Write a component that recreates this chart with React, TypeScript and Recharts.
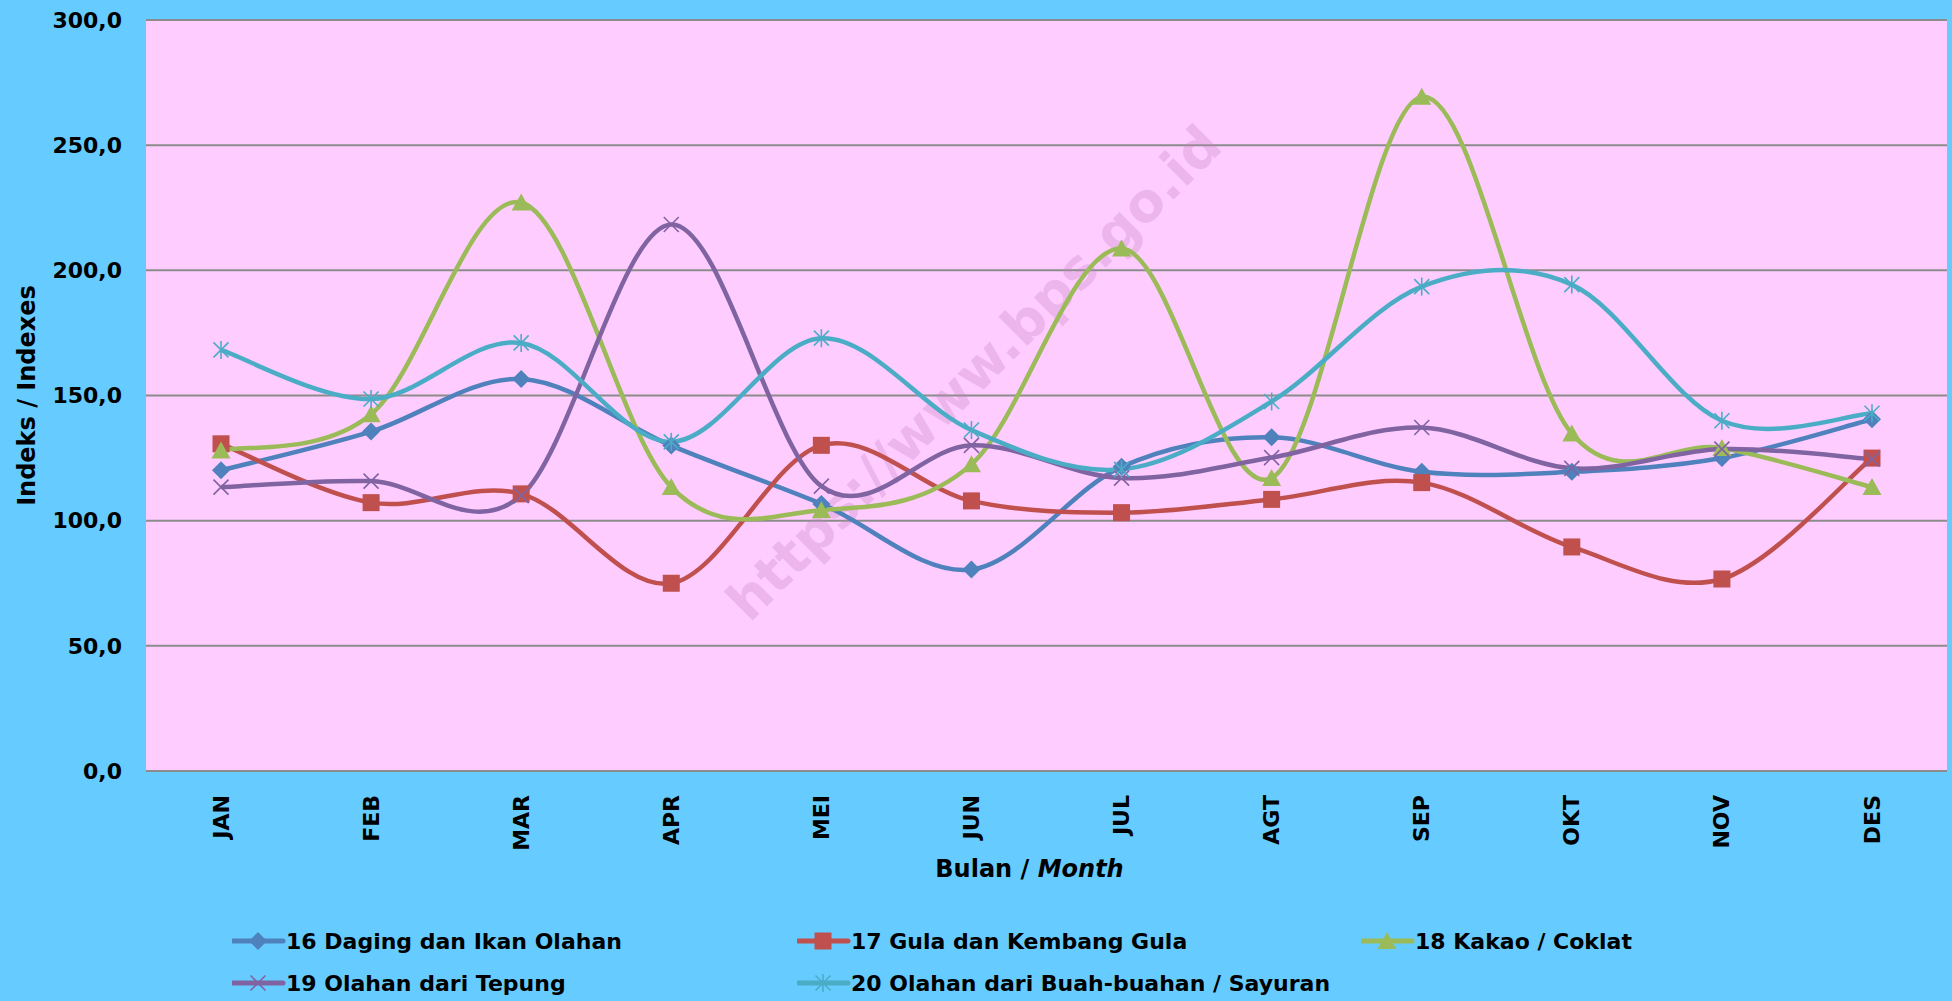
import { LineChart, Line, XAxis, YAxis, CartesianGrid, Legend } from 'recharts';

const months = ['JAN', 'FEB', 'MAR', 'APR', 'MEI', 'JUN', 'JUL', 'AGT', 'SEP', 'OKT', 'NOV', 'DES'];
const daging = [120.1, 135.6, 156.6, 130.0, 106.7, 80.5, 121.5, 133.3, 119.5, 119.5, 125.0, 140.5];
const gula = [130.7, 107.2, 110.7, 75.0, 130.1, 107.9, 103.2, 108.5, 115.2, 89.5, 76.7, 125.0];
const kakao = [128.0, 142.5, 227.1, 113.4, 104.2, 122.5, 208.7, 117.0, 269.3, 134.8, 129.0, 113.4];
const tepung = [113.4, 115.8, 110.0, 218.3, 113.8, 130.1, 117.0, 125.2, 137.2, 120.9, 128.6, 124.6];
const buah = [168.2, 148.6, 171.0, 131.5, 172.9, 136.2, 120.5, 147.6, 193.5, 194.3, 139.9, 142.9];
const yTicks = [0, 50, 100, 150, 200, 250, 300];

const series = [
    { key: 'daging', name: '16 Daging dan Ikan Olahan', color: '#4F81BD', shape: 'diamond' },
    { key: 'gula', name: '17 Gula dan Kembang Gula', color: '#C0504D', shape: 'square' },
    { key: 'kakao', name: '18 Kakao / Coklat', color: '#9BBB59', shape: 'triangle' },
    { key: 'tepung', name: '19 Olahan dari Tepung', color: '#8064A2', shape: 'x' },
    { key: 'buah', name: '20 Olahan dari Buah-buahan / Sayuran', color: '#4BACC6', shape: 'star' },
];

const data = months.map((m, i) => ({
    month: m,
    daging: daging[i],
    gula: gula[i],
    kakao: kakao[i],
    tepung: tepung[i],
    buah: buah[i],
}));

const FONT = '"DejaVu Sans", Verdana, sans-serif';

// Excel style smoothing (cardinal spline, tension 0)
const excelCurve = (context: any) => {
    let pts: number[][] = [];
    return {
        areaStart() {},
        areaEnd() {},
        lineStart() { pts = []; },
        point(x: number, y: number) { pts.push([+x, +y]); },
        lineEnd() {
            const n = pts.length;
            if (!n) return;
            context.moveTo(pts[0][0], pts[0][1]);
            for (let i = 0; i < n - 1; i++) {
                const p0 = pts[Math.max(i - 1, 0)];
                const p1 = pts[i];
                const p2 = pts[i + 1];
                const p3 = pts[Math.min(i + 2, n - 1)];
                context.bezierCurveTo(
                    p1[0] + (p2[0] - p0[0]) / 6, p1[1] + (p2[1] - p0[1]) / 6,
                    p2[0] - (p3[0] - p1[0]) / 6, p2[1] - (p3[1] - p1[1]) / 6,
                    p2[0], p2[1]
                );
            }
        },
    };
};

const Marker = ({ cx, cy, shape, color }: any) => {
    if (shape === 'diamond') {
        return <polygon points={`${cx},${cy - 9} ${cx + 9},${cy} ${cx},${cy + 9} ${cx - 9},${cy}`} fill={color} />;
    }
    if (shape === 'square') {
        return <rect x={cx - 8.5} y={cy - 8.5} width={17} height={17} fill={color} />;
    }
    if (shape === 'triangle') {
        return <polygon points={`${cx},${cy - 9} ${cx + 9.5},${cy + 8} ${cx - 9.5},${cy + 8}`} fill={color} />;
    }
    const d = 7.5;
    return (
        <g stroke={color} strokeWidth={1.6}>
            <line x1={cx - d} y1={cy - d} x2={cx + d} y2={cy + d} />
            <line x1={cx - d} y1={cy + d} x2={cx + d} y2={cy - d} />
            {shape === 'star' && <line x1={cx} y1={cy - 9} x2={cx} y2={cy + 9} />}
        </g>
    );
};

const makeDot = (shape: string, color: string) => (props: any) => (
    <Marker key={`${shape}-${props.index}`} cx={props.cx} cy={props.cy} shape={shape} color={color} />
);

const XTick = ({ x, y, payload }: any) => (
    <text
        x={x}
        y={y}
        transform={`rotate(-90, ${x}, ${y})`}
        textAnchor="end"
        dominantBaseline="central"
        fontFamily={FONT}
        fontWeight="bold"
        fontSize={22}
        fill="#000"
    >
        {payload.value}
    </text>
);

const YTitle = (props: any) => {
    const vb = props.viewBox || { x: 0, y: 20, width: 146, height: 751 };
    const cx = vb.x + 27;
    const cy = vb.y + vb.height / 2;
    return (
        <text x={cx} y={cy} transform={`rotate(-90, ${cx}, ${cy})`} textAnchor="middle" dominantBaseline="central"
            fontFamily={FONT} fontWeight="bold" fontSize={24} fill="#000">
            Indeks / Indexes
        </text>
    );
};

const XTitle = (props: any) => {
    const vb = props.viewBox || { x: 146, y: 771, width: 1801, height: 230 };
    return (
        <text x={vb.x + vb.width / 2 - 17} y={vb.y + 106} textAnchor="middle"
            fontFamily={FONT} fontWeight="bold" fontSize={24} fill="#000">
            Bulan / <tspan fontStyle="italic">Month</tspan>
        </text>
    );
};

const legendCols = [232, 797, 1361];

const LegendBox = () => (
    <div style={{ position: 'relative', width: 1952, height: 84, fontFamily: FONT }}>
        {series.map((s, i) => (
            <div
                key={s.key}
                style={{
                    position: 'absolute',
                    left: legendCols[i % 3],
                    top: Math.floor(i / 3) * 42,
                    height: 42,
                    display: 'flex',
                    alignItems: 'center',
                    whiteSpace: 'nowrap',
                }}
            >
                <svg width={54} height={42}>
                    <line x1={1} y1={21} x2={51} y2={21} stroke={s.color} strokeWidth={5} strokeLinecap="round" />
                    <Marker cx={26} cy={21} shape={s.shape} color={s.color} />
                </svg>
                <span style={{ fontSize: 22, fontWeight: 'bold', color: '#000' }}>{s.name}</span>
            </div>
        ))}
    </div>
);

const App = () => {
    return (
        <div style={{ width: 1952, height: 1001, background: '#66CCFF', fontFamily: FONT }}>
            <style>{'body{margin:0}'}</style>
            <LineChart width={1952} height={1001} data={data} margin={{ top: 20, right: 5, left: 0, bottom: 0 }}>
                <CartesianGrid vertical={false} stroke="#8C8C8C" strokeWidth={2} fill="#FFCCFF" fillOpacity={1} />
                <text
                    x={974}
                    y={373}
                    transform="rotate(-45, 974, 373)"
                    textAnchor="middle"
                    dominantBaseline="central"
                    fontFamily={FONT}
                    fontWeight="bold"
                    fontSize={54}
                    fill="#C080C0"
                    fillOpacity={0.3}
                >
                    https://www.bps.go.id
                </text>
                <XAxis
                    dataKey="month"
                    height={230}
                    padding={{ left: 75, right: 75 }}
                    axisLine={{ stroke: '#8C8C8C', strokeWidth: 2 }}
                    tickLine={false}
                    tickSize={0}
                    tickMargin={24}
                    tick={<XTick />}
                    interval={0}
                    label={{ content: (p: any) => <XTitle {...p} /> }}
                />
                <YAxis
                    width={146}
                    domain={[0, 300]}
                    ticks={yTicks}
                    axisLine={false}
                    tickLine={false}
                    tickSize={0}
                    tickMargin={24}
                    tickFormatter={(v: number) => v.toFixed(1).replace('.', ',')}
                    tick={{ fill: '#000', fontSize: 22, fontWeight: 'bold', fontFamily: FONT }}
                    label={{ content: (p: any) => <YTitle {...p} /> }}
                />
                {series.map((s) => (
                    <Line
                        key={s.key}
                        dataKey={s.key}
                        name={s.name}
                        type={excelCurve as any}
                        stroke={s.color}
                        strokeWidth={4.5}
                        dot={makeDot(s.shape, s.color)}
                        activeDot={false}
                        isAnimationActive={false}
                    />
                ))}
                <Legend
                    layout="horizontal"
                    verticalAlign="middle"
                    align="center"
                    wrapperStyle={{ top: 920, left: 0, width: 1952, height: 84 }}
                    content={() => <LegendBox />}
                />
            </LineChart>
        </div>
    );
};

export default App;
